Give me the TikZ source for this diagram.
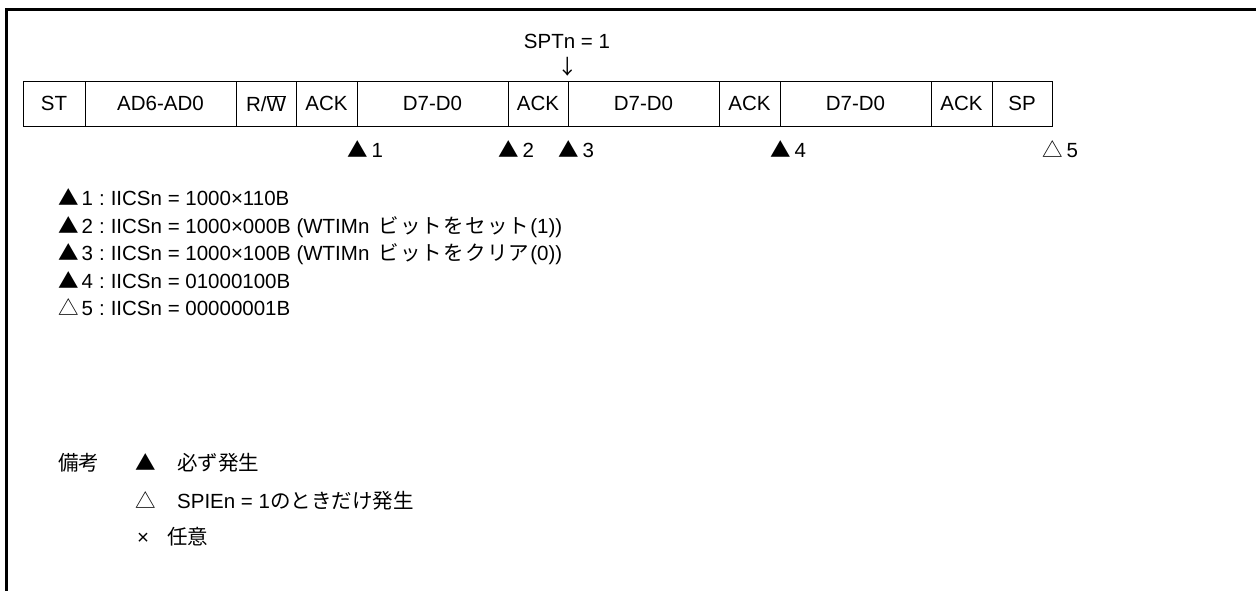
\documentclass[tikz,border=0pt]{standalone}
\usepackage{fontspec}
\setmainfont{Liberation Sans}
\newfontfamily\jp{Noto Sans CJK JP}
\newfontfamily\jpw[LetterSpace=6]{Noto Sans CJK JP}
\newcommand\tri[1]{{\jp #1}\hspace{3pt}}
\newcommand\sep{\hspace{6pt}:\hspace{6pt}}
\begin{document}
\begin{tikzpicture}[x=1pt,y=-1pt,
  font=\fontsize{20.5}{25}\selectfont,
  cell/.style={draw, line width=0.9pt, minimum height=45pt, inner sep=0pt},
  mk/.style={inner sep=0pt, font=\fontsize{20.5}{25}\selectfont\jp},
  txt/.style={inner sep=0pt, anchor=base west},
  jtxt/.style={txt, font=\fontsize{20.5}{25}\selectfont\jp}]
\useasboundingbox (0,0) rectangle (1256,591);
\draw[line width=3pt] (6.5,591) -- (6.5,9.5) -- (1256,9.5);
% frame row
\node[cell, minimum width=62pt]  (st)   at (54,103.5)    {ST};
\node[cell, minimum width=151pt] (ad)   at (160.5,103.5) {AD6-AD0};
\node[cell, minimum width=60pt]  (rw)   at (266,103.5)   {R/\(\overline{\hbox{W}}\)};
\node[cell, minimum width=61pt]  (ack1) at (326.5,103.5) {ACK};
\node[cell, minimum width=151pt] (d1)   at (432.5,103.5) {D7-D0};
\node[cell, minimum width=60pt]  (ack2) at (538,103.5)   {ACK};
\node[cell, minimum width=151pt] (d2)   at (643.5,103.5) {D7-D0};
\node[cell, minimum width=61pt]  (ack3) at (749.5,103.5) {ACK};
\node[cell, minimum width=151pt] (d3)   at (855.5,103.5) {D7-D0};
\node[cell, minimum width=61pt]  (ack4) at (961.5,103.5) {ACK};
\node[cell, minimum width=60pt]  (sp)   at (1022,103.5)  {SP};
% SPTn
\node[inner sep=0pt] (spt) at (567,41) {SPTn = 1};
\node[mk] (arr) at (568,67) {↓};
% markers
\node[mk, anchor=base] (m1) at (358,158) {▲};
\node[txt] (n1) at ([xshift=3pt]m1.base east) {1};
\node[mk, anchor=base] (m2) at (509,158) {▲};
\node[txt] (n2) at ([xshift=3pt]m2.base east) {2};
\node[mk, anchor=base] (m3) at (569,158) {▲};
\node[txt] (n3) at ([xshift=3pt]m3.base east) {3};
\node[mk, anchor=base] (m4) at (781,158) {▲};
\node[txt] (n4) at ([xshift=3pt]m4.base east) {4};
\node[mk, anchor=base] (m5) at (1053,158) {△};
\node[txt] (n5) at ([xshift=3pt]m5.base east) {5};
% list
\node[txt] (l1) at (58,205.5) {\tri{▲}1\sep IICSn = 1000×110B};
\node[txt] (l2) at (58,233) {\tri{▲}2\sep IICSn = 1000×000B (WTIMn\hspace{9pt}{\jpw ビットをセット}\hspace{1pt}(1))};
\node[txt] (l3) at (58,260.5) {\tri{▲}3\sep IICSn = 1000×100B (WTIMn\hspace{9pt}{\jpw ビットをクリア}\hspace{1pt}(0))};
\node[txt] (l4) at (58,288) {\tri{▲}4\sep IICSn = 01000100B};
\node[txt] (l5) at (58,315.5) {\tri{△}5\sep IICSn = 00000001B};
% remarks
\node[jtxt] (bk) at (58,470) {備考};
\node[mk, anchor=base west] (r1) at (135,470) {▲};
\node[jtxt] (r1t) at (177,470) {必ず発生};
\node[mk, anchor=base west] (r2) at (135,508) {△};
\node[txt] (r2t) at (177,508) {SPIEn = 1{\jp のときだけ発生}};
\node[txt] (r3) at (137,544) {×};
\node[jtxt] (r3t) at (167,544) {任意};
\end{tikzpicture}
\end{document}
